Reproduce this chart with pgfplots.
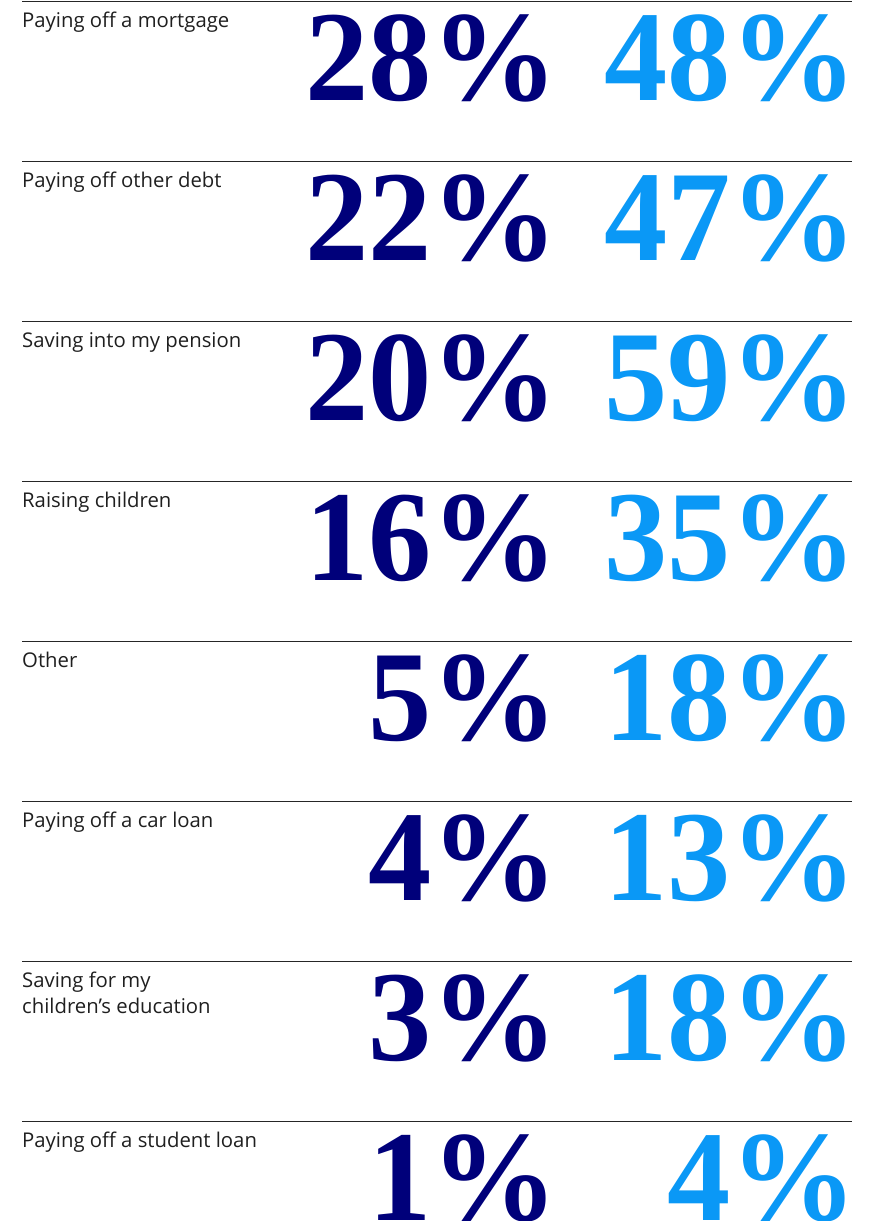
\documentclass[border=0pt]{standalone}
\usepackage{fontspec}
\setmainfont{Open Sans}
\newfontfamily\numfont{Liberation Serif}
\usepackage{pgfplots}
\usepackage{pgfplotstable}
\pgfplotsset{compat=1.18}
\definecolor{navy}{RGB}{0,0,122}
\definecolor{sky}{RGB}{10,152,246}
\pgfplotstableread{
row dark light
0 28 48
1 22 47
2 20 59
3 16 35
4 5 18
5 4 13
6 3 18
7 1 4
}\pcttable
\begin{document}
\begin{tikzpicture}
\begin{axis}[
  scale only axis, width=870pt, height=1221pt,
  xmin=0, xmax=870, ymin=0, ymax=1221, y dir=reverse,
  hide axis, clip=true,
]
% separator lines
\pgfplotsinvokeforeach{0,...,7}{
  \addplot[black!85, line width=1pt] coordinates {(22,{1.7+160*#1}) (852,{1.7+160*#1})};
}
% labels
\addplot[draw=none, point meta=explicit symbolic,
  nodes near coords,
  every node near coord/.style={anchor=base west, inner sep=0pt, font=\fontsize{20.3}{24}\selectfont, text=black!88}]
  coordinates {
  (22,27) [Paying off a mortgage]
  (22,187) [Paying off other debt]
  (22,347) [Saving into my pension]
  (22,507) [Raising children]
  (22,667) [Other]
  (22,827) [Paying off a car loan]
  (22,987) [Saving for my]
  (22,1013.5) [children’s education]
  (22,1147) [Paying off a student loan]
  };
% dark numbers
\addplot[draw=none, point meta=explicit symbolic,
  nodes near coords={\scalebox{0.98}[1]{\pgfplotspointmeta\%}},
  every node near coord/.style={anchor=base east, inner sep=0pt, text=navy, font=\numfont\bfseries\fontsize{129}{129}\selectfont}]
  table[x expr=558.5, y expr={100+160*\thisrow{row}}, meta=dark] {\pcttable};
% light numbers
\addplot[draw=none, point meta=explicit symbolic,
  nodes near coords={\scalebox{0.98}[1]{\pgfplotspointmeta\%}},
  every node near coord/.style={anchor=base east, inner sep=0pt, text=sky, font=\numfont\bfseries\fontsize{129}{129}\selectfont}]
  table[x expr=857.5, y expr={100+160*\thisrow{row}}, meta=light] {\pcttable};
\end{axis}
\pgfresetboundingbox
\path (current axis.south west) rectangle (current axis.north east);
\end{tikzpicture}
\end{document}
